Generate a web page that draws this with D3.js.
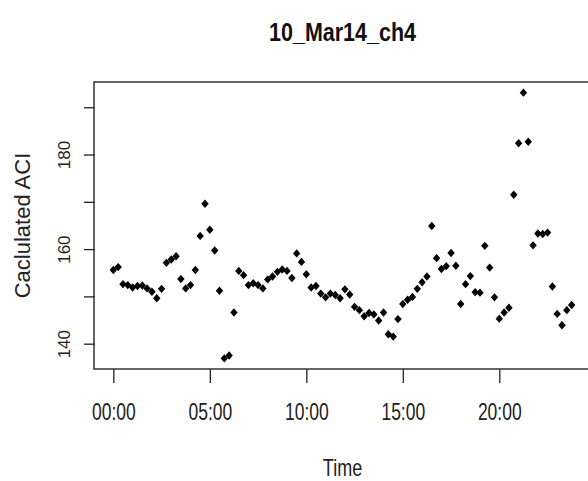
<!DOCTYPE html>
<html>
<head>
<meta charset="utf-8">
<script src="https://cdn.jsdelivr.net/npm/d3@7"></script>
<style>
  body { margin: 0; background: #fff; }
  svg { display: block; }
</style>
</head>
<body>
<div id="chart"></div>
<script>
// readings every 15 minutes through the day
const times = [
  "00:00","00:15","00:30","00:45","01:00","01:15","01:30","01:45",
  "02:00","02:15","02:30","02:45","03:00","03:15","03:30","03:45",
  "04:00","04:15","04:30","04:45","05:00","05:15","05:30","05:45",
  "06:00","06:15","06:30","06:45","07:00","07:15","07:30","07:45",
  "08:00","08:15","08:30","08:45","09:00","09:15","09:30","09:45",
  "10:00","10:15","10:30","10:45","11:00","11:15","11:30","11:45",
  "12:00","12:15","12:30","12:45","13:00","13:15","13:30","13:45",
  "14:00","14:15","14:30","14:45","15:00","15:15","15:30","15:45",
  "16:00","16:15","16:30","16:45","17:00","17:15","17:30","17:45",
  "18:00","18:15","18:30","18:45","19:00","19:15","19:30","19:45",
  "20:00","20:15","20:30","20:45","21:00","21:15","21:30","21:45",
  "22:00","22:15","22:30","22:45","23:00","23:15","23:30","23:45"
]
const aciValues = [
  155.7,156.3,152.7,152.5,152.0,152.3,152.4,151.8,
  151.1,149.7,151.7,157.2,157.9,158.6,153.8,151.8,
  152.5,155.7,162.9,169.7,164.2,159.8,151.3,137.0,
  137.6,146.7,155.5,154.6,152.5,152.9,152.5,151.8,
  153.7,154.3,155.3,155.8,155.5,154.0,159.2,157.4,
  154.8,152.0,152.3,150.7,149.9,150.7,150.4,149.7,
  151.6,150.5,147.9,147.2,145.9,146.6,146.3,145.0,
  146.7,142.1,141.6,145.3,148.5,149.4,150.0,151.7,
  153.1,154.3,165.0,158.2,155.9,156.5,159.3,156.6,
  148.5,152.7,154.4,151.0,150.9,160.8,156.2,149.9,
  145.4,146.7,147.7,171.6,182.5,193.2,182.8,160.9,
  163.4,163.3,163.6,152.2,146.4,144.0,147.2,148.3
]
const xTickTimes = ["00:00","05:00","10:00","15:00","20:00"]
const yTickValues = [140, 150, 160, 170, 180, 190]
const yTickLabels = ["140", "", "160", "", "180", ""]

const width = 588
const height = 481
const plotLeft = 95, plotRight = 590, plotTop = 82, plotBottom = 369

function toMinutes(t) {
    let parts = t.split(':')
    return +parts[0] * 60 + +parts[1]
}

let data = times.map(function(t, i) {
    return { minutes: toMinutes(t), aci: aciValues[i] }
})

// R style: pad the data range by 4% on each side
let xExtent = d3.extent(data, d => d.minutes)
let xPad = (xExtent[1] - xExtent[0]) * 0.04
let yExtent = d3.extent(data, d => d.aci)
let yPad = (yExtent[1] - yExtent[0]) * 0.04

const x = d3.scaleLinear()
    .domain([xExtent[0] - xPad, xExtent[1] + xPad])
    .range([plotLeft, plotRight])

const y = d3.scaleLinear()
    .domain([yExtent[0] - yPad, yExtent[1] + yPad])
    .range([plotBottom, plotTop])

const svg = d3.select('#chart')
    .append('svg')
    .attr('width', width)
    .attr('height', height)

const font = '"Liberation Sans", Arial, sans-serif'

// x axis
let xAxis = svg.append('g')
    .attr('transform', `translate(0,${plotBottom})`)
    .call(d3.axisBottom(x)
        .tickValues(xTickTimes.map(toMinutes))
        .tickFormat((d, i) => xTickTimes[i])
        .tickSizeInner(14)
        .tickSizeOuter(0)
        .tickPadding(20))
xAxis.select('.domain').remove()
xAxis.selectAll('line').attr('stroke', '#222').attr('stroke-width', 1.3)
// the labels are condensed in the original
xAxis.selectAll('text')
    .attr('font-family', font)
    .attr('font-size', '24px')
    .attr('fill', '#222')
    .attr('transform', 'scale(0.73,1)')

// y axis
let yAxis = svg.append('g')
    .attr('transform', `translate(${plotLeft},0)`)
    .call(d3.axisLeft(y)
        .tickValues(yTickValues)
        .tickFormat((d, i) => yTickLabels[i])
        .tickSizeInner(11)
        .tickSizeOuter(0))
yAxis.select('.domain').remove()
yAxis.selectAll('line').attr('stroke', '#222').attr('stroke-width', 1.3)
yAxis.selectAll('.tick').attr('transform', null)
yAxis.selectAll('.tick line').attr('transform', d => `translate(0,${y(d)})`)
yAxis.selectAll('text')
    .attr('font-family', font)
    .attr('font-size', '17px')
    .attr('fill', '#222')
    .attr('text-anchor', 'middle')
    .attr('x', 0)
    .attr('y', 0)
    .attr('dy', null)
    .attr('transform', d => `translate(-25,${y(d)}) rotate(-90)`)

// plot box
svg.append('rect')
    .attr('x', plotLeft - 1)
    .attr('y', plotTop)
    .attr('width', plotRight - plotLeft + 1)
    .attr('height', plotBottom - plotTop)
    .attr('fill', 'none')
    .attr('stroke', '#333')
    .attr('stroke-width', 1.5)

// filled diamonds like pch = 18
const diamond = {
    draw: function(ctx, size) {
        let w = 3.7, h = 4.2
        ctx.moveTo(0, -h)
        ctx.lineTo(w, 0)
        ctx.lineTo(0, h)
        ctx.lineTo(-w, 0)
        ctx.closePath()
    }
}

svg.selectAll('.dot')
    .data(data)
    .enter().append('path')
    .attr('class', 'dot')
    .attr('d', d3.symbol().type(diamond))
    .attr('fill', '#000')
    .attr('transform', d => `translate(${x(d.minutes)},${y(d.aci)})`)

// titles
let cx = (plotLeft + plotRight) / 2
svg.append('text')
    .attr('transform', `translate(${cx},41) scale(0.86,1)`)
    .attr('text-anchor', 'middle')
    .attr('font-family', font)
    .attr('font-weight', 'bold')
    .attr('font-size', '25px')
    .attr('fill', '#111')
    .text('10_Mar14_ch4')

svg.append('text')
    .attr('transform', `translate(${cx},476) scale(0.75,1)`)
    .attr('text-anchor', 'middle')
    .attr('font-family', font)
    .attr('font-size', '24px')
    .attr('fill', '#222')
    .text('Time')

svg.append('text')
    .attr('transform', `translate(30,${(plotTop + plotBottom) / 2}) rotate(-90)`)
    .attr('text-anchor', 'middle')
    .attr('font-family', font)
    .attr('font-size', '22px')
    .attr('fill', '#222')
    .text('Caclulated ACI')
</script>
</body>
</html>
